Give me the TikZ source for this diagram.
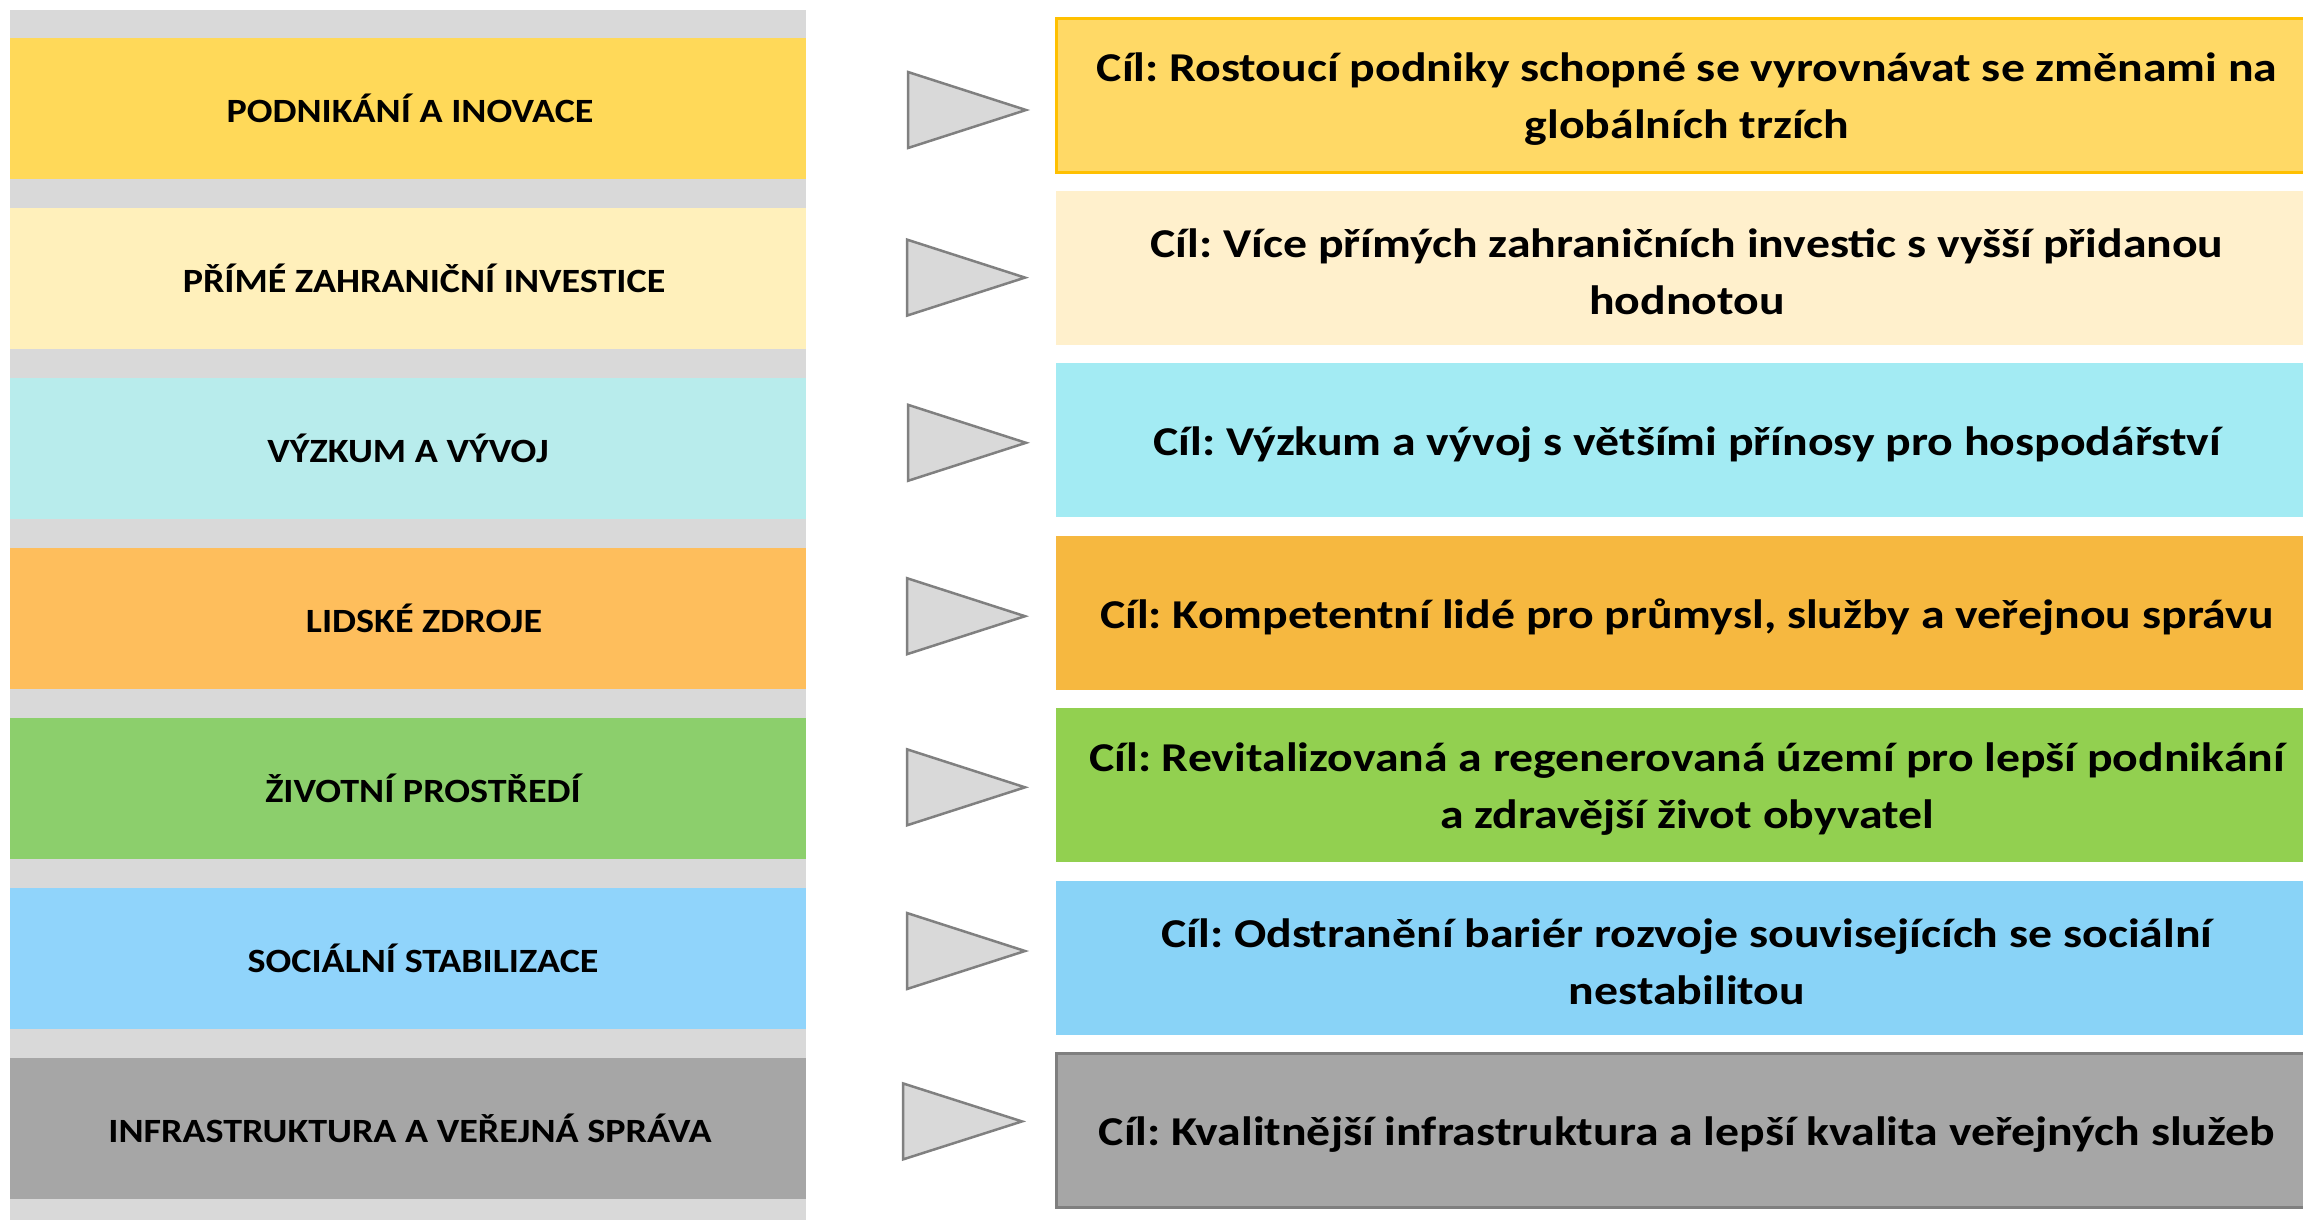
\documentclass[tikz,border=0pt]{standalone}
\usepackage{fontspec}
\setmainfont{Carlito}
\newfontfamily\lfont{Carlito}[FakeStretch=1.12]
\newfontfamily\rfont{Carlito}[FakeStretch=1.165]
\definecolor{gbg}{HTML}{D9D9D9}
\definecolor{lA}{HTML}{FFD959}
\definecolor{lB}{HTML}{FFF0BB}
\definecolor{lC}{HTML}{B8ECEC}
\definecolor{lD}{HTML}{FEBE5C}
\definecolor{lE}{HTML}{8CCF6C}
\definecolor{lF}{HTML}{90D4FB}
\definecolor{lG}{HTML}{A6A6A6}
\definecolor{rA}{HTML}{FFD966}
\definecolor{rAb}{HTML}{FFC000}
\definecolor{rB}{HTML}{FFF0CC}
\definecolor{rC}{HTML}{A3EBF3}
\definecolor{rD}{HTML}{F6B840}
\definecolor{rE}{HTML}{92D050}
\definecolor{rF}{HTML}{89D3F7}
\definecolor{rG}{HTML}{A6A6A6}
\definecolor{rGb}{HTML}{7F7F7F}
\definecolor{trifill}{HTML}{D9D9D9}
\definecolor{tridraw}{HTML}{808080}
\tikzset{
  band/.style={rectangle, inner sep=0pt, minimum width=796pt, minimum height=141pt, draw=none},
  lbl/.style={inner sep=0pt, font=\lfont\bfseries\fontsize{34}{40}\selectfont},
  goal/.style={rectangle, inner sep=0pt, minimum width=1262pt, minimum height=154pt},
  gtxt/.style={inner sep=0pt, align=center, yshift=-4pt, font=\rfont\bfseries\fontsize{41}{57}\selectfont},
  tri/.style={draw=tridraw, fill=trifill, line width=2.5pt, line join=miter},
}
\begin{document}
\frenchspacing
\begin{tikzpicture}[x=1pt,y=-1pt]
\useasboundingbox (0,0) rectangle (2303,1219);
\fill[white] (0,0) rectangle (2303,1219);
\fill[gbg] (10,10) rectangle (806,1230);
% left bands
\node[band, fill=lA] (b1) at (408,108.5) {};
\node[band, fill=lB] (b2) at (408,278.5) {};
\node[band, fill=lC] (b3) at (408,448.5) {};
\node[band, fill=lD] (b4) at (408,618.5) {};
\node[band, fill=lE] (b5) at (408,788.5) {};
\node[band, fill=lF] (b6) at (408,958.5) {};
\node[band, fill=lG] (b7) at (408,1128.5) {};
\node[lbl] (t1) at (410,108.5) {PODNIKÁNÍ A INOVACE};
\node[lbl] (t2) at (424,278.5) {PŘÍMÉ ZAHRANIČNÍ INVESTICE};
\node[lbl] (t3) at (408,448.5) {VÝZKUM A VÝVOJ};
\node[lbl] (t4) at (424,618.5) {LIDSKÉ ZDROJE};
\node[lbl] (t5) at (423,788.5) {ŽIVOTNÍ PROSTŘEDÍ};
\node[lbl] (t6) at (423,958.5) {SOCIÁLNÍ STABILIZACE};
\node[lbl] (t7) at (410,1128.5) {INFRASTRUKTURA A VEŘEJNÁ SPRÁVA};
% triangles
\draw[tri] (908,72) -- (1026,110) -- (908,148) -- cycle;
\draw[tri] (907,239.6) -- (1025,277.6) -- (907,315.6) -- cycle;
\draw[tri] (908,404.8) -- (1026,442.8) -- (908,480.8) -- cycle;
\draw[tri] (907,578.2) -- (1025,616.2) -- (907,654.2) -- cycle;
\draw[tri] (907,749.3) -- (1025,787.3) -- (907,825.3) -- cycle;
\draw[tri] (907,913) -- (1025,951) -- (907,989) -- cycle;
\draw[tri] (903,1083.4) -- (1022,1121.4) -- (903,1159.4) -- cycle;
% goal boxes
\node[goal, fill=rA, draw=rAb, line width=3pt] (g1) at (1687,95.25) {};
\node[goal, fill=rB] (g2) at (1687,267.75) {};
\node[goal, fill=rC] (g3) at (1687,440.25) {};
\node[goal, fill=rD] (g4) at (1687,612.75) {};
\node[goal, fill=rE] (g5) at (1687,785.25) {};
\node[goal, fill=rF] (g6) at (1687,957.75) {};
\node[goal, fill=rG, draw=rGb, line width=3pt] (g7) at (1687,1130.25) {};
\node[gtxt] (s1) at (g1) {Cíl: Rostoucí podniky schopné se vyrovnávat se změnami na\\globálních trzích};
\node[gtxt] (s2) at (g2) {Cíl: Více přímých zahraničních investic s vyšší přidanou\\hodnotou};
\node[gtxt] (s3) at (g3) {Cíl: Výzkum a vývoj s většími přínosy pro hospodářství};
\node[gtxt] (s4) at (g4) {Cíl: Kompetentní lidé pro průmysl, služby a veřejnou správu};
\node[gtxt] (s5) at (g5) {Cíl: Revitalizovaná a regenerovaná území pro lepší podnikání\\a zdravější život obyvatel};
\node[gtxt] (s6) at (g6) {Cíl: Odstranění bariér rozvoje souvisejících se sociální\\nestabilitou};
\node[gtxt] (s7) at (g7) {Cíl: Kvalitnější infrastruktura a lepší kvalita veřejných služeb};
\end{tikzpicture}
\end{document}
